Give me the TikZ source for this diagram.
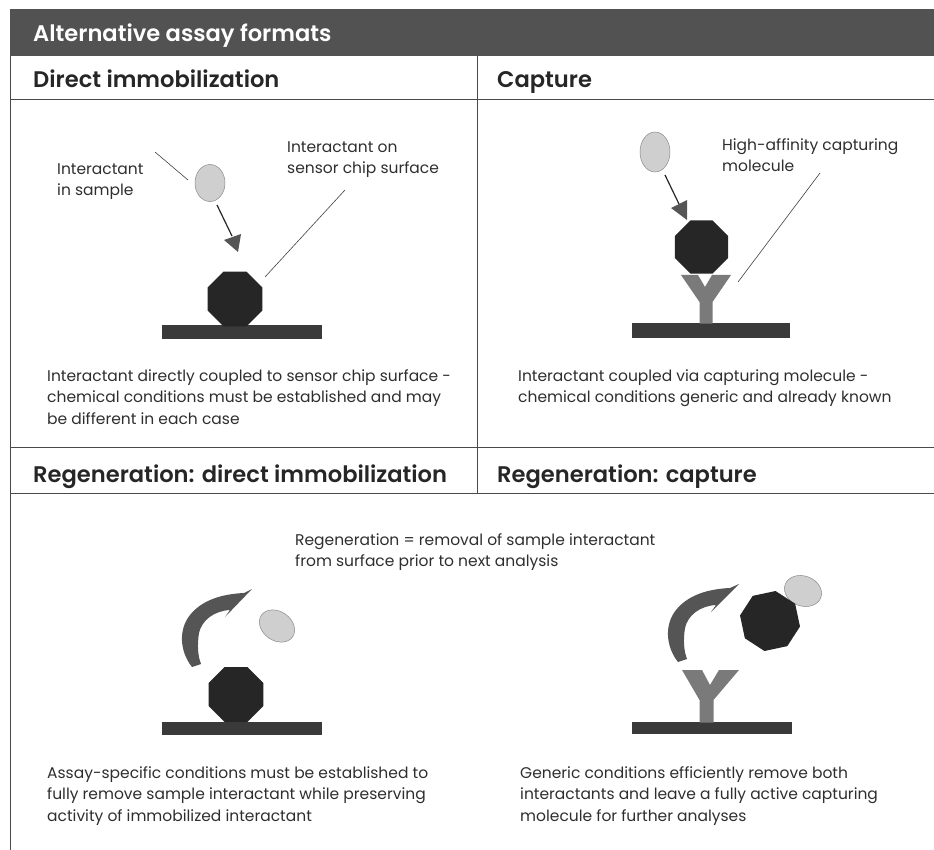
\documentclass[tikz,border=0pt]{standalone}
\usepackage{fontspec}
\setmainfont{Poppins}[BoldFont={Poppins SemiBold}]
\usetikzlibrary{shapes.geometric}
\definecolor{band}{HTML}{525252}
\definecolor{rule}{HTML}{4A4A4A}
\definecolor{octa}{HTML}{262626}
\definecolor{bar}{HTML}{3A3A3A}
\definecolor{ygray}{HTML}{7A7A7A}
\definecolor{egg}{HTML}{CFCFCF}
\definecolor{eggline}{HTML}{8A8A8A}
\definecolor{arr}{HTML}{555555}
\definecolor{txt}{HTML}{2E2E2E}
\tikzset{
  gridline/.style={draw=rule, line width=0.8pt},
  heading/.style={anchor=base west, inner sep=0, font=\fontsize{22.6}{26}\selectfont\bfseries, text=black!85},
  body/.style={anchor=north west, yshift=15.05pt, inner sep=0, align=left, font=\fontsize{15.5}{21.5}\selectfont, text=txt},
  octagon/.style={regular polygon, regular polygon sides=8, fill=octa, draw=none, inner sep=0, minimum size=59.5pt},
  egg/.style={ellipse, fill=egg, draw=eggline, line width=0.5pt, inner sep=0},
  surface/.style={fill=bar, draw=none},
  ymol/.style={fill=ygray, draw=none},
  leader/.style={draw=black!75, line width=0.6pt},
  pointer/.style={draw=black!85, line width=1.2pt},
  tipfill/.style={fill=arr, draw=none},
  curvearrow/.style={fill=arr, draw=none}
}
\begin{document}
\begin{tikzpicture}[x=1pt,y=-1pt]
\useasboundingbox (0,0) rectangle (934,850);
% frame
\fill[band] (10,9) rectangle (934,56);
\node[heading, text=white] (title) at (33,42) {Alternative assay formats};
\draw[gridline] (10,56) -- (10,850);
\draw[gridline] (10,99) -- (934,99);
\draw[gridline] (477,56) -- (477,493);
\draw[gridline] (10,447) -- (934,447);
\draw[gridline] (10,493) -- (934,493);
\node[heading] (h1) at (33,88) {Direct immobilization};
\node[heading] (h2) at (497,88) {Capture};
\node[heading] (h3) at (33,482) {Regeneration: direct immobilization};
\node[heading] (h4) at (497,482) {Regeneration: capture};

% ---- Direct immobilization
\fill[surface] (162,325) rectangle (322,339);
\node[octagon] (o1) at (235,299) {};
\node[egg, minimum width=30pt, minimum height=37pt] (e1) at (210,183) {};
\coordinate (a1s) at (217,205);
\coordinate (a1e) at (232,236);
\draw[pointer] (a1s) -- (a1e);
\fill[tipfill] (224,240) -- (241,234) -- (238,252) -- cycle;
\node[body] (t1) at (57,174) {\strut Interactant\\in sample};
\node[body] (t2) at (287,152) {\strut Interactant on\\sensor chip surface};
\coordinate (l1a) at (155,152);
\coordinate (l1b) at (188,180);
\draw[leader] (l1a) -- (l1b);
\coordinate (l2a) at (345,190);
\coordinate (l2b) at (265,277);
\draw[leader] (l2a) -- (l2b);
\node[body] (t3) at (47,381) {\strut Interactant directly coupled to sensor chip surface -\\chemical conditions must be established and may\\be different in each case};

% ---- Capture
\fill[surface] (632,323) rectangle (790,338);
\fill[ymol] (681,275) -- (698,275) -- (705,287) -- (712,275) -- (731,275) -- (712.5,302) -- (712.5,323.5) -- (699.5,323.5) -- (699.5,302) -- cycle;
\node[octagon, minimum size=57.5pt] (o2) at (701.5,247) {};
\node[egg, minimum width=30pt, minimum height=40pt] (e2) at (655,152) {};
\coordinate (a2s) at (665,175);
\coordinate (a2e) at (679,204);
\draw[pointer] (a2s) -- (a2e);
\fill[tipfill] (671,208) -- (687,200) -- (687,220) -- cycle;
\node[body] (t4) at (722,150) {\strut High-affinity capturing\\molecule};
\coordinate (l3a) at (820,173);
\coordinate (l3b) at (738,282);
\draw[leader] (l3a) -- (l3b);
\node[body] (t5) at (518,381) {\strut Interactant coupled via capturing molecule -\\chemical conditions generic and already known};

% ---- Regeneration
\node[body] (t6) at (295,545) {\strut Regeneration = removal of sample interactant\\from surface prior to next analysis};

% left
\fill[surface] (162,722) rectangle (322,735);
\node[octagon] (o3) at (236,694.5) {};
\node[egg, minimum width=38pt, minimum height=29pt, rotate=-35] (e3) at (277,626) {};
\fill[curvearrow] (192,667) .. controls (180,652) and (178,630) .. (190,615)
  .. controls (202,600) and (222,594) .. (244,593) -- (252,589) -- (225,617) -- (230,610)
  .. controls (214,611) and (202,620) .. (199,633)
  .. controls (197,646) and (198,656) .. (201,664) -- cycle;
\node[body] (t7) at (47,778) {\strut Assay-specific conditions must be established to\\fully remove sample interactant while preserving\\activity of immobilized interactant};

% right
\fill[surface] (632,722) rectangle (792,734);
\fill[ymol] (682,670) -- (702,670) -- (710,685) -- (719,670) -- (739,670) -- (713.5,700) -- (713.5,722.5) -- (699.5,722.5) -- (699.5,700) -- cycle;
\node[egg, minimum width=38pt, minimum height=30pt, rotate=-20] (e4) at (803,591) {};
\node[octagon, minimum size=61pt, shape border rotate=12] (o4) at (770,621) {};
\begin{scope}[shift={(486,-5)}]
\fill[curvearrow] (192,667) .. controls (180,652) and (178,630) .. (190,615)
  .. controls (202,600) and (222,594) .. (244,593) -- (253,589) -- (225,617) -- (230,610)
  .. controls (214,611) and (202,620) .. (199,633)
  .. controls (197,646) and (198,656) .. (201,664) -- cycle;
\end{scope}
\node[body] (t8) at (520,778) {\strut Generic conditions efficiently remove both\\interactants and leave a fully active capturing\\molecule for further analyses};
\end{tikzpicture}
\end{document}
